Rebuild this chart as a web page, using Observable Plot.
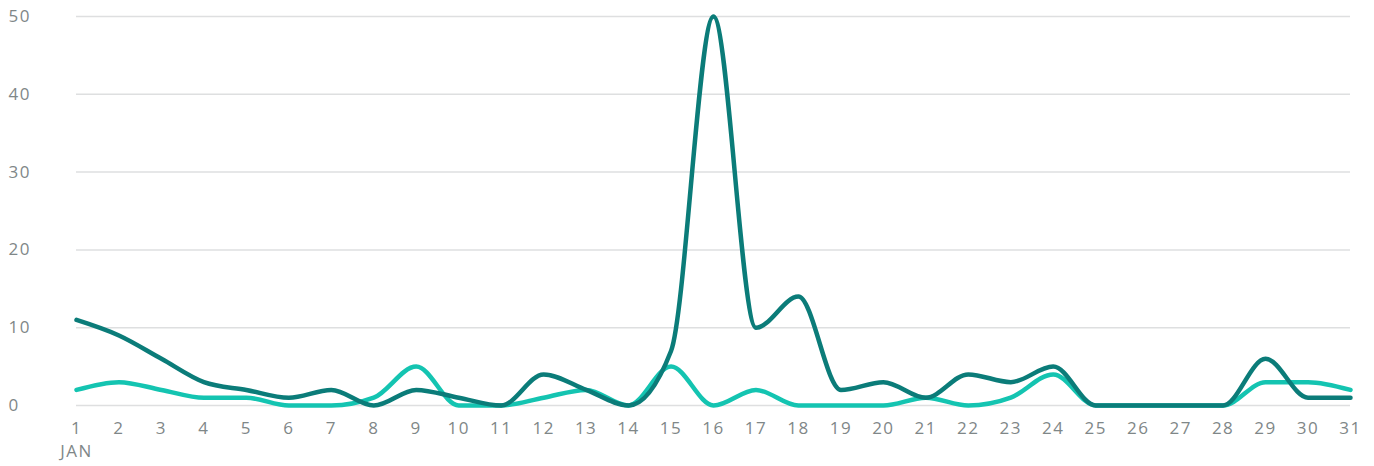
<!DOCTYPE html>
<html>
<head>
<meta charset="utf-8">
<script src="https://cdn.jsdelivr.net/npm/d3@7"></script>
<script src="https://cdn.jsdelivr.net/npm/@observablehq/plot@0.6"></script>
<style>
  html, body { margin: 0; padding: 0; background: #fff; }
  #chart svg { display: block; }
</style>
</head>
<body>
<div id="chart"></div>
<script>
const days = d3.range(1, 32);
const darkSeries = [11, 9, 6, 3, 2, 1, 2, 0, 2, 1, 0, 4, 2, 0, 7, 50, 10, 14, 2, 3, 1, 4, 3, 5, 0, 0, 0, 0, 6, 1, 1];
const lightSeries = [2, 3, 2, 1, 1, 0, 0, 1, 5, 0, 0, 1, 2, 0, 5, 0, 2, 0, 0, 0, 1, 0, 1, 4, 0, 0, 0, 0, 3, 3, 2];
const yTicks = [0, 10, 20, 30, 40, 50];
const monthLabel = "JAN";

const darkData = days.map((d, i) => ({day: d, value: darkSeries[i]}));
const lightData = days.map((d, i) => ({day: d, value: lightSeries[i]}));

const textColor = "#7f8788";
const font = "'Open Sans', Lato, sans-serif";

const chart = Plot.plot({
  width: 1374,
  height: 466,
  marginLeft: 76,
  marginRight: 24,
  marginTop: 16,
  marginBottom: 61,
  style: {fontFamily: font, fontSize: "17px", color: textColor, background: "#fff", letterSpacing: "1.5px"},
  x: {domain: [1, 31]},
  y: {domain: [0, 50]},
  marks: [
    Plot.gridY(yTicks, {stroke: "#dedfe0", strokeOpacity: 1, strokeWidth: 1.5}),
    Plot.axisY(yTicks, {tickSize: 0, tickPadding: 0, textAnchor: "start", dx: -68, label: null, fill: textColor}),
    Plot.axisX(days, {tickSize: 0, tickPadding: 16, label: null, fill: textColor}),
    Plot.text([1], {x: d => d, text: () => monthLabel, frameAnchor: "bottom", dy: 51, fill: textColor}),
    Plot.line(lightData, {x: "day", y: "value", stroke: "#14c4b1", strokeWidth: 4.5, curve: "monotone-x"}),
    Plot.line(darkData, {x: "day", y: "value", stroke: "#0b7c79", strokeWidth: 4.5, curve: "monotone-x"})
  ]
});
document.getElementById("chart").appendChild(chart);
</script>
</body>
</html>
